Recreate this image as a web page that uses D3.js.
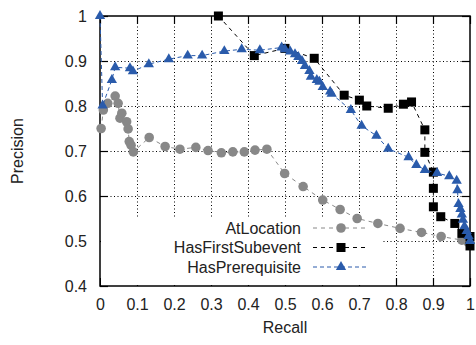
<!DOCTYPE html>
<html>
<head>
<meta charset="utf-8">
<script src="https://cdn.jsdelivr.net/npm/d3@7"></script>
<style>
  body { margin: 0; background: #fff; }
  text { font-family: "Liberation Sans", Arial, sans-serif; font-size: 16px; fill: #222; }
</style>
</head>
<body>
<svg id="chart" width="476" height="345"></svg>
<script>
// recall / precision pairs
const atLocation = [
  [0.003, 0.750], [0.009, 0.791], [0.021, 0.806], [0.041, 0.822], [0.049, 0.806],
  [0.054, 0.773], [0.059, 0.784], [0.072, 0.765], [0.076, 0.749], [0.079, 0.721],
  [0.084, 0.713], [0.090, 0.698], [0.133, 0.730], [0.176, 0.710], [0.216, 0.704],
  [0.259, 0.708], [0.292, 0.701], [0.328, 0.696], [0.359, 0.698], [0.390, 0.698],
  [0.419, 0.702], [0.451, 0.704], [0.499, 0.650], [0.549, 0.621], [0.602, 0.591],
  [0.649, 0.570], [0.695, 0.550], [0.751, 0.539], [0.811, 0.528], [0.869, 0.519],
  [0.922, 0.510], [0.978, 0.502], [0.995, 0.497]
];
const hasFirstSubevent = [
  [0.320, 1.000], [0.417, 0.912], [0.500, 0.928], [0.579, 0.906], [0.660, 0.824],
  [0.701, 0.813], [0.721, 0.800], [0.779, 0.795], [0.820, 0.804], [0.842, 0.809],
  [0.878, 0.747], [0.878, 0.697], [0.901, 0.653], [0.901, 0.617], [0.901, 0.576],
  [0.921, 0.554], [0.959, 0.539], [0.978, 0.517], [1.000, 0.510], [1.000, 0.489]
];
const hasPrerequisite = [
  [0.000, 1.000], [0.007, 0.801], [0.032, 0.858], [0.041, 0.886], [0.081, 0.884],
  [0.089, 0.877], [0.132, 0.893], [0.186, 0.904], [0.237, 0.912], [0.276, 0.912],
  [0.336, 0.922], [0.383, 0.926], [0.432, 0.924], [0.491, 0.930], [0.500, 0.926],
  [0.514, 0.921], [0.527, 0.915], [0.536, 0.909], [0.546, 0.900], [0.554, 0.889],
  [0.566, 0.878], [0.570, 0.865], [0.586, 0.858], [0.593, 0.854], [0.602, 0.842],
  [0.622, 0.832], [0.626, 0.827], [0.678, 0.791], [0.707, 0.756], [0.747, 0.734],
  [0.779, 0.705], [0.834, 0.686], [0.855, 0.669], [0.878, 0.658], [0.911, 0.651],
  [0.944, 0.644], [0.964, 0.634], [0.966, 0.613], [0.969, 0.582], [0.974, 0.571],
  [0.978, 0.559], [0.981, 0.547], [0.985, 0.533], [0.991, 0.522], [0.996, 0.511],
  [1.000, 0.500]
];
const seriesNames = ["AtLocation", "HasFirstSubevent", "HasPrerequisite"];
const xTicks = [0, 0.1, 0.2, 0.3, 0.4, 0.5, 0.6, 0.7, 0.8, 0.9, 1];
const yTicks = [0.4, 0.5, 0.6, 0.7, 0.8, 0.9, 1];

const svg = d3.select("#chart");
const pl = 100, pr = 470, pt = 16, pb = 286;

const x = d3.scaleLinear().domain([0, 1]).range([pl, pr]);
const y = d3.scaleLinear().domain([0.4, 1]).range([pb, pt]);
const fmt = d => String(+d.toFixed(1));

// grid (dotted)
const grid = svg.append("g").attr("stroke", "#000").attr("stroke-width", 1)
  .attr("stroke-dasharray", "1,2.5");
grid.selectAll(".gx").data(xTicks.slice(1, -1)).enter().append("line")
  .attr("x1", d => x(d) + 0.5).attr("x2", d => x(d) + 0.5)
  .attr("y1", pt).attr("y2", pb);
grid.selectAll(".gy").data(yTicks.slice(1, -1)).enter().append("line")
  .attr("y1", d => y(d) + 0.5).attr("y2", d => y(d) + 0.5)
  .attr("x1", pl).attr("x2", pr);

// axes, ticks point inward on all four sides
const tick = 8;
function styleAxis(g) {
  g.select(".domain").remove();
  g.selectAll(".tick line").attr("stroke", "#000").attr("stroke-width", 1.2);
  g.selectAll("text").style("font-size", "16px").attr("fill", "#222");
}
svg.append("g").attr("transform", `translate(0,${pb})`)
  .call(d3.axisBottom(x).tickValues(xTicks).tickFormat(fmt).tickSizeInner(-tick).tickSizeOuter(0).tickPadding(13))
  .call(styleAxis);
svg.append("g").attr("transform", `translate(0,${pt})`)
  .call(d3.axisTop(x).tickValues(xTicks).tickFormat("").tickSizeInner(-tick).tickSizeOuter(0))
  .call(styleAxis);
svg.append("g").attr("transform", `translate(${pl},0)`)
  .call(d3.axisLeft(y).tickValues(yTicks).tickFormat(fmt).tickSizeInner(-tick).tickSizeOuter(0).tickPadding(13))
  .call(styleAxis);
svg.append("g").attr("transform", `translate(${pr},0)`)
  .call(d3.axisRight(y).tickValues(yTicks).tickFormat("").tickSizeInner(-tick).tickSizeOuter(0))
  .call(styleAxis);

// opaque key background
svg.append("rect").attr("x", pl + 1).attr("y", 218).attr("width", 280).attr("height", pb - 219)
  .attr("fill", "#fff");

svg.append("rect").attr("x", pl).attr("y", pt).attr("width", pr - pl).attr("height", pb - pt)
  .attr("fill", "none").attr("stroke", "#000").attr("stroke-width", 1.5);

const styles = [
  { data: atLocation, color: "#888888", dash: "4,4", shape: d3.symbolCircle, size: 72 },
  { data: hasFirstSubevent, color: "#000000", dash: "4,4", shape: d3.symbolSquare, size: 81 },
  { data: hasPrerequisite, color: "#2a5bab", dash: "4,3", shape: d3.symbolTriangle, size: 46 }
];

const line = d3.line().x(d => x(d[0])).y(d => y(d[1]));

styles.forEach(s => {
  const g = svg.append("g");
  g.append("path").datum(s.data).attr("d", line)
    .attr("fill", "none").attr("stroke", s.color).attr("stroke-width", 1)
    .attr("stroke-dasharray", s.dash);
  g.selectAll("path.pt").data(s.data).enter().append("path").attr("class", "pt")
    .attr("d", d3.symbol().type(s.shape).size(s.size))
    .attr("transform", d => `translate(${x(d[0])},${y(d[1])})`)
    .attr("fill", s.color);
});

// key
const key = svg.append("g");
seriesNames.forEach((name, i) => {
  const s = styles[i];
  const ky = 228 + i * 19.5;
  key.append("text").attr("x", 301).attr("y", ky).attr("dy", "0.35em")
    .attr("text-anchor", "end").text(name);
  key.append("line").attr("x1", 313).attr("x2", 367).attr("y1", ky).attr("y2", ky)
    .attr("stroke", s.color).attr("stroke-width", 1).attr("stroke-dasharray", s.dash);
  key.append("path").attr("d", d3.symbol().type(s.shape).size(s.size))
    .attr("transform", `translate(341,${ky})`).attr("fill", s.color);
});

// axis titles
svg.append("text").attr("x", (pl + pr) / 2).attr("y", 333)
  .attr("text-anchor", "middle").text("Recall");
svg.append("text").attr("transform", `translate(23,${(pt + pb) / 2}) rotate(-90)`)
  .attr("text-anchor", "middle").text("Precision");
</script>
</body>
</html>
